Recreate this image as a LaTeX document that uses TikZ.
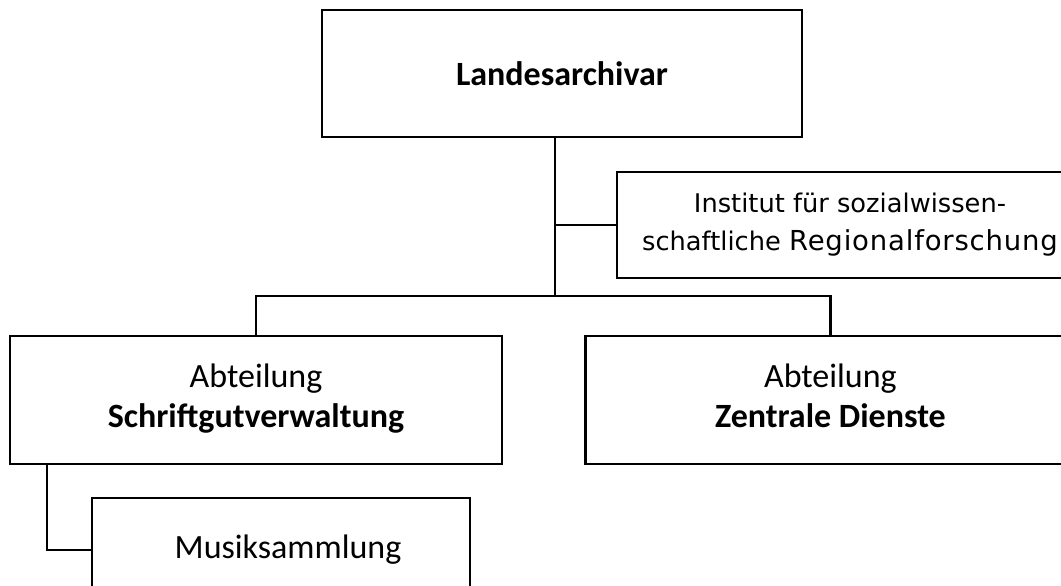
\documentclass[tikz,border=0pt]{standalone}
\usepackage{fontspec}
\setmainfont{Carlito}
\newfontfamily\instfont{DejaVu Sans}
\usetikzlibrary{positioning}
\tikzset{unit/.style={draw,line width=2.4pt,rectangle,align=center,font=\fontsize{34}{40}\selectfont}}
\tikzset{dept/.style={unit,minimum height=128pt,text depth=9pt}}
\tikzset{link/.style={line width=2.6pt}}

\begin{document}
\begin{tikzpicture}[x=1pt,y=-1pt,node distance=81pt]
                \useasboundingbox (0,0) rectangle (1061,586);
                \clip (0,0) rectangle (1061,586);
                \node[unit,minimum width=480pt,minimum height=127pt] (la) at (562,73.5) {\textbf{Landesarchivar}};
                \node[unit,minimum width=466pt,minimum height=106pt,font={\instfont\fontsize{25.7}{38}\selectfont}] (ifr) at (850,225) {Institut für sozialwissen-\\schaftliche {\fontsize{27.5}{38}\selectfont\addfontfeature{LetterSpace=3}Regionalforschung}};
                \node[dept,minimum width=492pt] (sv) at (256,400) {Abteilung\\\textbf{Schriftgutverwaltung}};
                \node[dept,minimum width=490pt] (zd) [right=of sv] {Abteilung\\\textbf{Zentrale Dienste}};
                \node[unit,minimum width=378pt,minimum height=104pt] (ms) at (281,550) {\hspace*{14pt}Musiksammlung};
                \coordinate (bus) at (555,296);
                \draw[link] (la.south -| bus) -- (bus);
                \draw[link] (ifr.west) -- (ifr.west -| bus);
                \draw[link] (sv.north) |- (bus) -| (zd.north);
                \draw[link] ([xshift=38pt]sv.south west) |- (ms.west);
            \end{tikzpicture}
\end{document}
